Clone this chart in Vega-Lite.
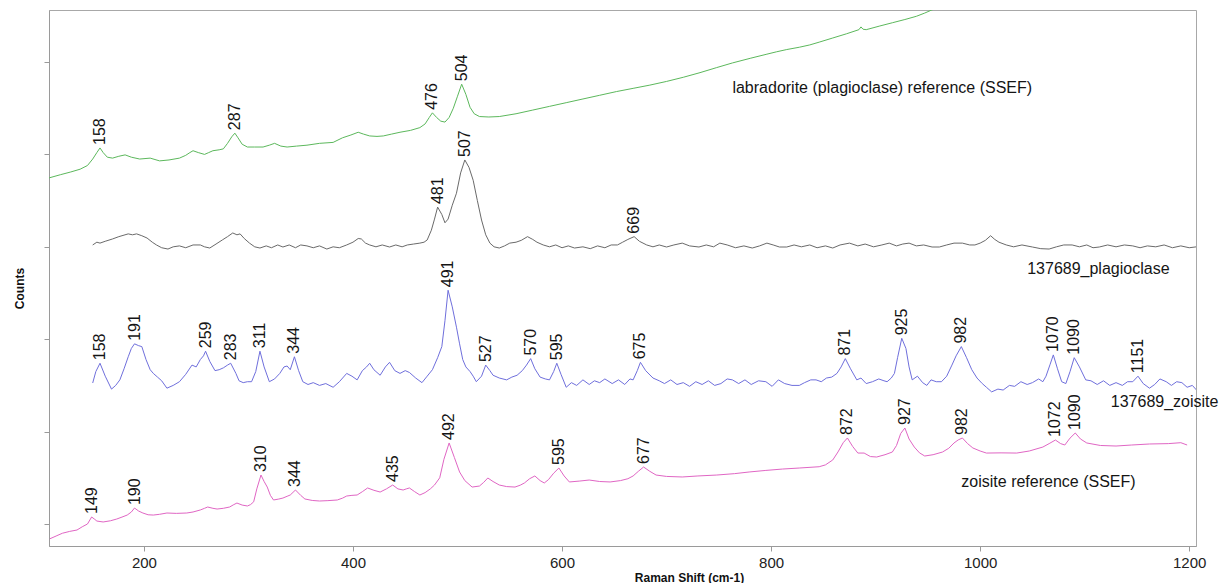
{
  "$schema": "https://vega.github.io/schema/vega-lite/v6.json",
  "width": 1147,
  "height": 536,
  "autosize": {"type": "none"},
  "padding": {"left": 49, "top": 10, "right": 25, "bottom": 37},
  "background": "white",
  "config": {"view": {"stroke": "#a8a8a8", "strokeWidth": 1}, "font": "Liberation Sans"},
  "datasets": {
    "spectra": [
      {"s":"lab","x":109,"y":374.5},{"s":"lab","x":120,"y":378},{"s":"lab","x":130,"y":381},{"s":"lab","x":139,"y":384},{"s":"lab","x":146,"y":388},{"s":"lab","x":151,"y":395},{"s":"lab","x":155,"y":402},{"s":"lab","x":158,"y":407},{"s":"lab","x":161,"y":402},{"s":"lab","x":165,"y":397},{"s":"lab","x":170,"y":396},{"s":"lab","x":176,"y":398},{"s":"lab","x":182,"y":399.5},{"s":"lab","x":188,"y":397},{"s":"lab","x":196,"y":395},{"s":"lab","x":206,"y":396},{"s":"lab","x":215,"y":393},{"s":"lab","x":224,"y":394},{"s":"lab","x":234,"y":396},{"s":"lab","x":240,"y":399},{"s":"lab","x":244,"y":402},{"s":"lab","x":247,"y":404},{"s":"lab","x":252,"y":402},{"s":"lab","x":258,"y":400},{"s":"lab","x":262,"y":402},{"s":"lab","x":266,"y":404},{"s":"lab","x":272,"y":405},{"s":"lab","x":276,"y":406},{"s":"lab","x":280,"y":412},{"s":"lab","x":284,"y":419},{"s":"lab","x":287,"y":423},{"s":"lab","x":290,"y":418},{"s":"lab","x":294,"y":411},{"s":"lab","x":299,"y":408},{"s":"lab","x":306,"y":408},{"s":"lab","x":314,"y":408},{"s":"lab","x":320,"y":410},{"s":"lab","x":325,"y":412},{"s":"lab","x":331,"y":409},{"s":"lab","x":337,"y":408},{"s":"lab","x":346,"y":409},{"s":"lab","x":356,"y":410},{"s":"lab","x":368,"y":412},{"s":"lab","x":381,"y":413},{"s":"lab","x":390,"y":418},{"s":"lab","x":398,"y":421},{"s":"lab","x":405,"y":424},{"s":"lab","x":410,"y":422},{"s":"lab","x":416,"y":420},{"s":"lab","x":423,"y":419.5},{"s":"lab","x":429,"y":420},{"s":"lab","x":437,"y":422},{"s":"lab","x":445,"y":424},{"s":"lab","x":455,"y":426},{"s":"lab","x":464,"y":429},{"s":"lab","x":469,"y":433},{"s":"lab","x":473,"y":440},{"s":"lab","x":476,"y":445},{"s":"lab","x":480,"y":440},{"s":"lab","x":484,"y":436},{"s":"lab","x":488,"y":435},{"s":"lab","x":492,"y":440},{"s":"lab","x":496,"y":450},{"s":"lab","x":500,"y":463},{"s":"lab","x":504,"y":476},{"s":"lab","x":508,"y":465},{"s":"lab","x":512,"y":451},{"s":"lab","x":516,"y":444},{"s":"lab","x":521,"y":441},{"s":"lab","x":530,"y":440.5},{"s":"lab","x":540,"y":441},{"s":"lab","x":556,"y":444},{"s":"lab","x":572,"y":448},{"s":"lab","x":588,"y":452},{"s":"lab","x":604,"y":456},{"s":"lab","x":620,"y":460},{"s":"lab","x":636,"y":464},{"s":"lab","x":652,"y":468},{"s":"lab","x":668,"y":471.5},{"s":"lab","x":684,"y":475},{"s":"lab","x":700,"y":479},{"s":"lab","x":716,"y":483.5},{"s":"lab","x":732,"y":488.5},{"s":"lab","x":748,"y":494},{"s":"lab","x":763,"y":499},{"s":"lab","x":780,"y":504},{"s":"lab","x":796,"y":508.5},{"s":"lab","x":805,"y":511},{"s":"lab","x":815,"y":513.5},{"s":"lab","x":827,"y":516},{"s":"lab","x":837,"y":518.5},{"s":"lab","x":846,"y":521.5},{"s":"lab","x":859,"y":526},{"s":"lab","x":872,"y":530.5},{"s":"lab","x":884,"y":535},{"s":"lab","x":886,"y":538},{"s":"lab","x":888,"y":535.5},{"s":"lab","x":891,"y":535},{"s":"lab","x":904,"y":539},{"s":"lab","x":916,"y":542.5},{"s":"lab","x":928,"y":546},{"s":"lab","x":939,"y":549.5},{"s":"lab","x":947,"y":553},{"s":"lab","x":954,"y":556.5},{"s":"lab","x":970,"y":562},{"s":"lab","x":990,"y":570},{"s":"lab","x":1020,"y":580},{"s":"lab","x":1060,"y":594},{"s":"lab","x":1100,"y":608},{"s":"lab","x":1150,"y":625},{"s":"lab","x":1207,"y":645},

      {"s":"plag","x":151,"y":302},{"s":"plag","x":155,"y":305},{"s":"plag","x":158,"y":304},{"s":"plag","x":163,"y":306},{"s":"plag","x":170,"y":308.5},{"s":"plag","x":176,"y":311},{"s":"plag","x":185,"y":314},{"s":"plag","x":189,"y":313},{"s":"plag","x":193,"y":314},{"s":"plag","x":198,"y":312},{"s":"plag","x":203,"y":309.5},{"s":"plag","x":208,"y":305},{"s":"plag","x":212,"y":302},{"s":"plag","x":217,"y":299},{"s":"plag","x":223,"y":297.6},{"s":"plag","x":228,"y":300},{"s":"plag","x":234,"y":301},{"s":"plag","x":240,"y":299},{"s":"plag","x":247,"y":302},{"s":"plag","x":254,"y":302},{"s":"plag","x":258,"y":300},{"s":"plag","x":263,"y":298.7},{"s":"plag","x":269,"y":303},{"s":"plag","x":275,"y":307.4},{"s":"plag","x":280,"y":311},{"s":"plag","x":285,"y":315},{"s":"plag","x":289,"y":313},{"s":"plag","x":292,"y":314},{"s":"plag","x":296,"y":309},{"s":"plag","x":301,"y":304},{"s":"plag","x":306,"y":300},{"s":"plag","x":311,"y":298.7},{"s":"plag","x":317,"y":301},{"s":"plag","x":322,"y":299},{"s":"plag","x":328,"y":302},{"s":"plag","x":333,"y":299.8},{"s":"plag","x":339,"y":302},{"s":"plag","x":345,"y":299},{"s":"plag","x":350,"y":302},{"s":"plag","x":356,"y":301},{"s":"plag","x":362,"y":299},{"s":"plag","x":368,"y":301},{"s":"plag","x":375,"y":297.6},{"s":"plag","x":381,"y":300},{"s":"plag","x":387,"y":299},{"s":"plag","x":394,"y":302},{"s":"plag","x":400,"y":305},{"s":"plag","x":405,"y":309},{"s":"plag","x":408,"y":308.5},{"s":"plag","x":412,"y":304},{"s":"plag","x":416,"y":302},{"s":"plag","x":422,"y":300},{"s":"plag","x":428,"y":302},{"s":"plag","x":435,"y":299.8},{"s":"plag","x":441,"y":302},{"s":"plag","x":447,"y":300},{"s":"plag","x":452,"y":302},{"s":"plag","x":458,"y":303},{"s":"plag","x":464,"y":304},{"s":"plag","x":468,"y":305},{"s":"plag","x":471,"y":307.4},{"s":"plag","x":475,"y":318},{"s":"plag","x":478,"y":330},{"s":"plag","x":481,"y":343},{"s":"plag","x":485,"y":335},{"s":"plag","x":488,"y":326},{"s":"plag","x":491,"y":330},{"s":"plag","x":495,"y":345},{"s":"plag","x":499,"y":358},{"s":"plag","x":503,"y":380},{"s":"plag","x":507,"y":394},{"s":"plag","x":511,"y":386},{"s":"plag","x":515,"y":372},{"s":"plag","x":519,"y":350},{"s":"plag","x":523,"y":329},{"s":"plag","x":527,"y":313},{"s":"plag","x":531,"y":304},{"s":"plag","x":535,"y":300},{"s":"plag","x":540,"y":298.7},{"s":"plag","x":545,"y":301},{"s":"plag","x":550,"y":304},{"s":"plag","x":556,"y":305},{"s":"plag","x":561,"y":307},{"s":"plag","x":567,"y":311},{"s":"plag","x":572,"y":308},{"s":"plag","x":576,"y":305},{"s":"plag","x":582,"y":302},{"s":"plag","x":588,"y":300},{"s":"plag","x":594,"y":302},{"s":"plag","x":600,"y":299},{"s":"plag","x":606,"y":301},{"s":"plag","x":612,"y":298.7},{"s":"plag","x":620,"y":300},{"s":"plag","x":627,"y":298},{"s":"plag","x":634,"y":301},{"s":"plag","x":641,"y":299},{"s":"plag","x":647,"y":302},{"s":"plag","x":653,"y":302},{"s":"plag","x":658,"y":305},{"s":"plag","x":663,"y":308},{"s":"plag","x":669,"y":311},{"s":"plag","x":674,"y":306},{"s":"plag","x":681,"y":302},{"s":"plag","x":687,"y":300},{"s":"plag","x":693,"y":302},{"s":"plag","x":700,"y":299.8},{"s":"plag","x":707,"y":302},{"s":"plag","x":715,"y":304},{"s":"plag","x":722,"y":301},{"s":"plag","x":731,"y":299.8},{"s":"plag","x":738,"y":302},{"s":"plag","x":745,"y":300},{"s":"plag","x":751,"y":304},{"s":"plag","x":758,"y":302},{"s":"plag","x":766,"y":299},{"s":"plag","x":774,"y":301},{"s":"plag","x":782,"y":298.7},{"s":"plag","x":789,"y":301},{"s":"plag","x":796,"y":304},{"s":"plag","x":802,"y":302},{"s":"plag","x":808,"y":299.8},{"s":"plag","x":815,"y":299.8},{"s":"plag","x":822,"y":302},{"s":"plag","x":829,"y":300},{"s":"plag","x":837,"y":302},{"s":"plag","x":844,"y":299},{"s":"plag","x":852,"y":301},{"s":"plag","x":859,"y":298.7},{"s":"plag","x":866,"y":302},{"s":"plag","x":875,"y":304},{"s":"plag","x":883,"y":301},{"s":"plag","x":890,"y":303},{"s":"plag","x":898,"y":300},{"s":"plag","x":906,"y":302},{"s":"plag","x":913,"y":304},{"s":"plag","x":920,"y":301},{"s":"plag","x":926,"y":303},{"s":"plag","x":932,"y":304},{"s":"plag","x":939,"y":301},{"s":"plag","x":946,"y":302},{"s":"plag","x":954,"y":299.8},{"s":"plag","x":961,"y":299.8},{"s":"plag","x":968,"y":302},{"s":"plag","x":975,"y":304},{"s":"plag","x":983,"y":304},{"s":"plag","x":990,"y":302},{"s":"plag","x":995,"y":302},{"s":"plag","x":1000,"y":304},{"s":"plag","x":1005,"y":307},{"s":"plag","x":1010,"y":312},{"s":"plag","x":1014,"y":308},{"s":"plag","x":1018,"y":305},{"s":"plag","x":1025,"y":302},{"s":"plag","x":1032,"y":300},{"s":"plag","x":1040,"y":302},{"s":"plag","x":1050,"y":299.8},{"s":"plag","x":1058,"y":298},{"s":"plag","x":1066,"y":297.6},{"s":"plag","x":1073,"y":300},{"s":"plag","x":1080,"y":302},{"s":"plag","x":1088,"y":302},{"s":"plag","x":1095,"y":300},{"s":"plag","x":1102,"y":302},{"s":"plag","x":1108,"y":299},{"s":"plag","x":1114,"y":299.8},{"s":"plag","x":1122,"y":302},{"s":"plag","x":1130,"y":300},{"s":"plag","x":1138,"y":302},{"s":"plag","x":1146,"y":301},{"s":"plag","x":1153,"y":299},{"s":"plag","x":1160,"y":301},{"s":"plag","x":1168,"y":300},{"s":"plag","x":1176,"y":302},{"s":"plag","x":1184,"y":299},{"s":"plag","x":1192,"y":301},{"s":"plag","x":1200,"y":299},{"s":"plag","x":1207,"y":300},

      {"s":"zoi","x":151,"y":152.6},{"s":"zoi","x":154,"y":165},{"s":"zoi","x":158,"y":174},{"s":"zoi","x":163,"y":160},{"s":"zoi","x":169,"y":146},{"s":"zoi","x":173,"y":150},{"s":"zoi","x":177,"y":156},{"s":"zoi","x":181,"y":168},{"s":"zoi","x":185,"y":181},{"s":"zoi","x":188,"y":190},{"s":"zoi","x":191,"y":195},{"s":"zoi","x":195,"y":193},{"s":"zoi","x":198,"y":192},{"s":"zoi","x":202,"y":178},{"s":"zoi","x":206,"y":167},{"s":"zoi","x":209,"y":163},{"s":"zoi","x":213,"y":159},{"s":"zoi","x":217,"y":155},{"s":"zoi","x":222,"y":147},{"s":"zoi","x":228,"y":150},{"s":"zoi","x":234,"y":154},{"s":"zoi","x":240,"y":162},{"s":"zoi","x":246,"y":172},{"s":"zoi","x":250,"y":170},{"s":"zoi","x":254,"y":178},{"s":"zoi","x":257,"y":182},{"s":"zoi","x":259,"y":187},{"s":"zoi","x":263,"y":176},{"s":"zoi","x":268,"y":166},{"s":"zoi","x":272,"y":167},{"s":"zoi","x":276,"y":169},{"s":"zoi","x":280,"y":172},{"s":"zoi","x":283,"y":174},{"s":"zoi","x":288,"y":163},{"s":"zoi","x":291,"y":155},{"s":"zoi","x":295,"y":153},{"s":"zoi","x":299,"y":154},{"s":"zoi","x":303,"y":154},{"s":"zoi","x":307,"y":165},{"s":"zoi","x":311,"y":187},{"s":"zoi","x":315,"y":170},{"s":"zoi","x":320,"y":154},{"s":"zoi","x":325,"y":157},{"s":"zoi","x":330,"y":163},{"s":"zoi","x":334,"y":170},{"s":"zoi","x":337,"y":171},{"s":"zoi","x":340,"y":167},{"s":"zoi","x":344,"y":181},{"s":"zoi","x":348,"y":166},{"s":"zoi","x":352,"y":154},{"s":"zoi","x":357,"y":151},{"s":"zoi","x":362,"y":153},{"s":"zoi","x":368,"y":150},{"s":"zoi","x":374,"y":152},{"s":"zoi","x":381,"y":148},{"s":"zoi","x":387,"y":154},{"s":"zoi","x":394,"y":163},{"s":"zoi","x":399,"y":160},{"s":"zoi","x":404,"y":156},{"s":"zoi","x":409,"y":166},{"s":"zoi","x":413,"y":170},{"s":"zoi","x":416,"y":174},{"s":"zoi","x":420,"y":167},{"s":"zoi","x":426,"y":161},{"s":"zoi","x":431,"y":170},{"s":"zoi","x":435,"y":175},{"s":"zoi","x":440,"y":166},{"s":"zoi","x":445,"y":163},{"s":"zoi","x":450,"y":166},{"s":"zoi","x":454,"y":164},{"s":"zoi","x":460,"y":158},{"s":"zoi","x":466,"y":153},{"s":"zoi","x":471,"y":160},{"s":"zoi","x":476,"y":167},{"s":"zoi","x":481,"y":180},{"s":"zoi","x":485,"y":192},{"s":"zoi","x":488,"y":220},{"s":"zoi","x":491,"y":253},{"s":"zoi","x":495,"y":235},{"s":"zoi","x":499,"y":213},{"s":"zoi","x":502,"y":195},{"s":"zoi","x":505,"y":178},{"s":"zoi","x":508,"y":170},{"s":"zoi","x":512,"y":165},{"s":"zoi","x":515,"y":160},{"s":"zoi","x":518,"y":154},{"s":"zoi","x":523,"y":160},{"s":"zoi","x":527,"y":172},{"s":"zoi","x":531,"y":166},{"s":"zoi","x":534,"y":161},{"s":"zoi","x":540,"y":158},{"s":"zoi","x":547,"y":156},{"s":"zoi","x":552,"y":159},{"s":"zoi","x":557,"y":161},{"s":"zoi","x":562,"y":166},{"s":"zoi","x":566,"y":172},{"s":"zoi","x":570,"y":179},{"s":"zoi","x":574,"y":168},{"s":"zoi","x":579,"y":159},{"s":"zoi","x":584,"y":157},{"s":"zoi","x":588,"y":156},{"s":"zoi","x":592,"y":165},{"s":"zoi","x":595,"y":174},{"s":"zoi","x":599,"y":162},{"s":"zoi","x":604,"y":148},{"s":"zoi","x":609,"y":153},{"s":"zoi","x":614,"y":150},{"s":"zoi","x":620,"y":156},{"s":"zoi","x":626,"y":151},{"s":"zoi","x":631,"y":155},{"s":"zoi","x":636,"y":153},{"s":"zoi","x":641,"y":157},{"s":"zoi","x":648,"y":152},{"s":"zoi","x":654,"y":156},{"s":"zoi","x":660,"y":151},{"s":"zoi","x":665,"y":157},{"s":"zoi","x":668,"y":156},{"s":"zoi","x":672,"y":166},{"s":"zoi","x":675,"y":175},{"s":"zoi","x":680,"y":166},{"s":"zoi","x":687,"y":158},{"s":"zoi","x":693,"y":155},{"s":"zoi","x":698,"y":152},{"s":"zoi","x":704,"y":156},{"s":"zoi","x":710,"y":151},{"s":"zoi","x":716,"y":153},{"s":"zoi","x":722,"y":149},{"s":"zoi","x":728,"y":154},{"s":"zoi","x":734,"y":151},{"s":"zoi","x":740,"y":155},{"s":"zoi","x":746,"y":150},{"s":"zoi","x":752,"y":152},{"s":"zoi","x":758,"y":157},{"s":"zoi","x":763,"y":156},{"s":"zoi","x":769,"y":152},{"s":"zoi","x":775,"y":156},{"s":"zoi","x":781,"y":151},{"s":"zoi","x":788,"y":155},{"s":"zoi","x":795,"y":154},{"s":"zoi","x":801,"y":149},{"s":"zoi","x":807,"y":156},{"s":"zoi","x":813,"y":152},{"s":"zoi","x":820,"y":150},{"s":"zoi","x":827,"y":150},{"s":"zoi","x":832,"y":153},{"s":"zoi","x":838,"y":156},{"s":"zoi","x":843,"y":156},{"s":"zoi","x":848,"y":154},{"s":"zoi","x":853,"y":158},{"s":"zoi","x":858,"y":159},{"s":"zoi","x":863,"y":163},{"s":"zoi","x":867,"y":170},{"s":"zoi","x":871,"y":179},{"s":"zoi","x":876,"y":168},{"s":"zoi","x":882,"y":156},{"s":"zoi","x":886,"y":158},{"s":"zoi","x":891,"y":152},{"s":"zoi","x":897,"y":154},{"s":"zoi","x":903,"y":157},{"s":"zoi","x":908,"y":155},{"s":"zoi","x":911,"y":154},{"s":"zoi","x":915,"y":158},{"s":"zoi","x":918,"y":163},{"s":"zoi","x":921,"y":180},{"s":"zoi","x":925,"y":201},{"s":"zoi","x":929,"y":190},{"s":"zoi","x":932,"y":170},{"s":"zoi","x":935,"y":156},{"s":"zoi","x":940,"y":160},{"s":"zoi","x":945,"y":153},{"s":"zoi","x":949,"y":150},{"s":"zoi","x":953,"y":156},{"s":"zoi","x":958,"y":154},{"s":"zoi","x":963,"y":154},{"s":"zoi","x":968,"y":160},{"s":"zoi","x":973,"y":172},{"s":"zoi","x":977,"y":182},{"s":"zoi","x":982,"y":192},{"s":"zoi","x":987,"y":180},{"s":"zoi","x":992,"y":167},{"s":"zoi","x":997,"y":158},{"s":"zoi","x":1002,"y":152},{"s":"zoi","x":1006,"y":148},{"s":"zoi","x":1011,"y":143},{"s":"zoi","x":1017,"y":146},{"s":"zoi","x":1022,"y":145},{"s":"zoi","x":1028,"y":150},{"s":"zoi","x":1033,"y":149},{"s":"zoi","x":1039,"y":154},{"s":"zoi","x":1045,"y":151},{"s":"zoi","x":1050,"y":153},{"s":"zoi","x":1056,"y":157},{"s":"zoi","x":1060,"y":154},{"s":"zoi","x":1063,"y":160},{"s":"zoi","x":1067,"y":173},{"s":"zoi","x":1070,"y":183},{"s":"zoi","x":1074,"y":168},{"s":"zoi","x":1078,"y":154},{"s":"zoi","x":1082,"y":152},{"s":"zoi","x":1086,"y":165},{"s":"zoi","x":1090,"y":180},{"s":"zoi","x":1095,"y":170},{"s":"zoi","x":1101,"y":156},{"s":"zoi","x":1106,"y":155},{"s":"zoi","x":1112,"y":151},{"s":"zoi","x":1118,"y":155},{"s":"zoi","x":1124,"y":150},{"s":"zoi","x":1130,"y":153},{"s":"zoi","x":1136,"y":150},{"s":"zoi","x":1141,"y":154},{"s":"zoi","x":1146,"y":154},{"s":"zoi","x":1151,"y":160},{"s":"zoi","x":1156,"y":152},{"s":"zoi","x":1162,"y":147},{"s":"zoi","x":1167,"y":151},{"s":"zoi","x":1172,"y":157},{"s":"zoi","x":1178,"y":154},{"s":"zoi","x":1183,"y":150},{"s":"zoi","x":1188,"y":154},{"s":"zoi","x":1193,"y":153},{"s":"zoi","x":1198,"y":148},{"s":"zoi","x":1203,"y":150},{"s":"zoi","x":1207,"y":145},

      {"s":"ref","x":110,"y":-16},{"s":"ref","x":116,"y":-13},{"s":"ref","x":122,"y":-10},{"s":"ref","x":129,"y":-8},{"s":"ref","x":136,"y":-6.5},{"s":"ref","x":141,"y":-3},{"s":"ref","x":146,"y":0},{"s":"ref","x":150,"y":7.6},{"s":"ref","x":153,"y":5},{"s":"ref","x":155,"y":3.2},{"s":"ref","x":161,"y":2.2},{"s":"ref","x":168,"y":3.5},{"s":"ref","x":174,"y":5.4},{"s":"ref","x":179,"y":7.5},{"s":"ref","x":184,"y":9.7},{"s":"ref","x":188,"y":13},{"s":"ref","x":191,"y":17.3},{"s":"ref","x":195,"y":14},{"s":"ref","x":199,"y":11.9},{"s":"ref","x":204,"y":10},{"s":"ref","x":209,"y":9.7},{"s":"ref","x":215,"y":10.5},{"s":"ref","x":222,"y":11.9},{"s":"ref","x":231,"y":11.5},{"s":"ref","x":241,"y":11.9},{"s":"ref","x":247,"y":13},{"s":"ref","x":254,"y":15.2},{"s":"ref","x":258,"y":17},{"s":"ref","x":261,"y":18.4},{"s":"ref","x":266,"y":17},{"s":"ref","x":270,"y":16.2},{"s":"ref","x":276,"y":17},{"s":"ref","x":282,"y":18.4},{"s":"ref","x":286,"y":21},{"s":"ref","x":289,"y":22.7},{"s":"ref","x":294,"y":20.5},{"s":"ref","x":299,"y":19.5},{"s":"ref","x":302,"y":21},{"s":"ref","x":305,"y":24},{"s":"ref","x":308,"y":38},{"s":"ref","x":312,"y":53},{"s":"ref","x":315,"y":46},{"s":"ref","x":318,"y":40},{"s":"ref","x":321,"y":31},{"s":"ref","x":324,"y":26},{"s":"ref","x":329,"y":27},{"s":"ref","x":333,"y":28.1},{"s":"ref","x":337,"y":30},{"s":"ref","x":340,"y":31.4},{"s":"ref","x":345,"y":36.8},{"s":"ref","x":350,"y":31},{"s":"ref","x":354,"y":27.1},{"s":"ref","x":361,"y":25.5},{"s":"ref","x":368,"y":24.9},{"s":"ref","x":376,"y":25.3},{"s":"ref","x":385,"y":26},{"s":"ref","x":390,"y":28},{"s":"ref","x":394,"y":30.3},{"s":"ref","x":399,"y":31},{"s":"ref","x":404,"y":31.4},{"s":"ref","x":409,"y":35},{"s":"ref","x":414,"y":39},{"s":"ref","x":420,"y":36.5},{"s":"ref","x":426,"y":34.6},{"s":"ref","x":432,"y":38},{"s":"ref","x":438,"y":42.2},{"s":"ref","x":443,"y":38},{"s":"ref","x":448,"y":36.8},{"s":"ref","x":451,"y":38},{"s":"ref","x":454,"y":39},{"s":"ref","x":459,"y":35},{"s":"ref","x":464,"y":31.4},{"s":"ref","x":469,"y":34},{"s":"ref","x":474,"y":38},{"s":"ref","x":478,"y":42.2},{"s":"ref","x":483,"y":50},{"s":"ref","x":487,"y":70},{"s":"ref","x":492,"y":87.7},{"s":"ref","x":497,"y":72},{"s":"ref","x":502,"y":56.3},{"s":"ref","x":507,"y":47},{"s":"ref","x":514,"y":40},{"s":"ref","x":521,"y":41.1},{"s":"ref","x":525,"y":45},{"s":"ref","x":529,"y":49.8},{"s":"ref","x":534,"y":46},{"s":"ref","x":540,"y":42.2},{"s":"ref","x":547,"y":40.5},{"s":"ref","x":555,"y":40},{"s":"ref","x":560,"y":42},{"s":"ref","x":564,"y":44.4},{"s":"ref","x":569,"y":49},{"s":"ref","x":574,"y":52},{"s":"ref","x":579,"y":47},{"s":"ref","x":583,"y":44.4},{"s":"ref","x":587,"y":48},{"s":"ref","x":592,"y":55},{"s":"ref","x":597,"y":60.6},{"s":"ref","x":602,"y":52},{"s":"ref","x":607,"y":45.5},{"s":"ref","x":617,"y":46.5},{"s":"ref","x":626,"y":47.6},{"s":"ref","x":636,"y":46},{"s":"ref","x":646,"y":45.5},{"s":"ref","x":656,"y":47},{"s":"ref","x":663,"y":49},{"s":"ref","x":668,"y":52},{"s":"ref","x":673,"y":57},{"s":"ref","x":678,"y":61.7},{"s":"ref","x":684,"y":57},{"s":"ref","x":690,"y":53},{"s":"ref","x":700,"y":51.5},{"s":"ref","x":715,"y":50.9},{"s":"ref","x":730,"y":52},{"s":"ref","x":748,"y":53},{"s":"ref","x":765,"y":54.5},{"s":"ref","x":779,"y":56.3},{"s":"ref","x":795,"y":58},{"s":"ref","x":811,"y":59.5},{"s":"ref","x":827,"y":60.6},{"s":"ref","x":846,"y":62},{"s":"ref","x":852,"y":64},{"s":"ref","x":859,"y":69.3},{"s":"ref","x":864,"y":78},{"s":"ref","x":869,"y":88},{"s":"ref","x":873,"y":93.1},{"s":"ref","x":878,"y":84},{"s":"ref","x":883,"y":76.8},{"s":"ref","x":889,"y":76.8},{"s":"ref","x":895,"y":73},{"s":"ref","x":901,"y":72.5},{"s":"ref","x":909,"y":75},{"s":"ref","x":916,"y":77.9},{"s":"ref","x":920,"y":85},{"s":"ref","x":924,"y":98},{"s":"ref","x":928,"y":103.9},{"s":"ref","x":932,"y":92},{"s":"ref","x":937,"y":83.3},{"s":"ref","x":942,"y":77},{"s":"ref","x":947,"y":73.6},{"s":"ref","x":955,"y":75},{"s":"ref","x":964,"y":77.9},{"s":"ref","x":970,"y":82},{"s":"ref","x":975,"y":87.7},{"s":"ref","x":979,"y":91},{"s":"ref","x":983,"y":93.1},{"s":"ref","x":988,"y":87},{"s":"ref","x":993,"y":82.3},{"s":"ref","x":1000,"y":79},{"s":"ref","x":1006,"y":76.8},{"s":"ref","x":1020,"y":77},{"s":"ref","x":1035,"y":76.8},{"s":"ref","x":1047,"y":79},{"s":"ref","x":1060,"y":83.3},{"s":"ref","x":1066,"y":87},{"s":"ref","x":1072,"y":90.9},{"s":"ref","x":1077,"y":87},{"s":"ref","x":1081,"y":85.5},{"s":"ref","x":1086,"y":93},{"s":"ref","x":1091,"y":98.5},{"s":"ref","x":1096,"y":92},{"s":"ref","x":1102,"y":87.7},{"s":"ref","x":1115,"y":85},{"s":"ref","x":1130,"y":84.4},{"s":"ref","x":1145,"y":85.5},{"s":"ref","x":1162,"y":86.6},{"s":"ref","x":1180,"y":87},{"s":"ref","x":1192,"y":88},{"s":"ref","x":1198,"y":85.5}
    ],
    "peaks": [
      {"x":158,"y":407,"label":"158"},{"x":287,"y":423,"label":"287"},{"x":476,"y":445,"label":"476"},{"x":504,"y":476,"label":"504"},
      {"x":481,"y":343,"label":"481"},{"x":507,"y":394,"label":"507"},{"x":669,"y":311,"label":"669"},
      {"x":158,"y":174,"label":"158"},{"x":191,"y":195,"label":"191"},{"x":259,"y":187,"label":"259"},{"x":283,"y":174,"label":"283"},{"x":311,"y":187,"label":"311"},{"x":344,"y":181,"label":"344"},{"x":491,"y":253,"label":"491"},{"x":527,"y":172,"label":"527"},{"x":570,"y":179,"label":"570"},{"x":595,"y":174,"label":"595"},{"x":675,"y":175,"label":"675"},{"x":871,"y":179,"label":"871"},{"x":925,"y":201,"label":"925"},{"x":982,"y":192,"label":"982"},{"x":1070,"y":183,"label":"1070"},{"x":1090,"y":180,"label":"1090"},{"x":1151,"y":160,"label":"1151"},
      {"x":150,"y":7.6,"label":"149"},{"x":191,"y":17.3,"label":"190"},{"x":312,"y":53,"label":"310"},{"x":345,"y":36.8,"label":"344"},{"x":438,"y":42.2,"label":"435"},{"x":492,"y":87.7,"label":"492"},{"x":597,"y":60.6,"label":"595"},{"x":678,"y":61.7,"label":"677"},{"x":873,"y":93.1,"label":"872"},{"x":928,"y":103.9,"label":"927"},{"x":983,"y":93.1,"label":"982"},{"x":1072,"y":90.9,"label":"1072"},{"x":1091,"y":98.5,"label":"1090"}
    ],
    "names": [
      {"x":763,"y":472,"label":"labradorite (plagioclase) reference (SSEF)"},
      {"x":1045,"y":276,"label":"137689_plagioclase"},
      {"x":1125,"y":132,"label":"137689_zoisite"},
      {"x":982,"y":45.5,"label":"zoisite reference (SSEF)"}
    ]
  },
  "encoding": {
    "x": {
      "field": "x", "type": "quantitative",
      "scale": {"domain": [109.2, 1206.5], "nice": false, "zero": false},
      "axis": {
        "values": [200, 400, 600, 800, 1000, 1200],
        "format": "d",
        "grid": false,
        "title": "Raman Shift (cm-1)",
        "titleFont": "Liberation Sans", "titleFontSize": 12, "titleFontWeight": "bold", "titleColor": "#111",
        "titleX": 640, "titleY": 31, "titleAlign": "center", "titleBaseline": "middle",
        "labelFont": "Liberation Sans", "labelFontSize": 15, "labelColor": "#222", "labelPadding": 4,
        "domainColor": "#9a9a9a", "tickColor": "#9a9a9a", "tickSize": 5
      }
    },
    "y": {
      "field": "y", "type": "quantitative",
      "scale": {"domain": [-23.8, 556.3], "nice": false, "zero": false},
      "axis": {
        "values": [0, 100, 200, 300, 400, 500],
        "labels": false,
        "grid": false,
        "title": "Counts",
        "titleFont": "Liberation Sans", "titleFontSize": 12, "titleFontWeight": "bold", "titleColor": "#111",
        "titleX": -30, "titleY": 278, "titleAlign": "center", "titleBaseline": "middle", "titleAngle": 270,
        "domainColor": "#9a9a9a", "tickColor": "#9a9a9a", "tickSize": 5
      }
    }
  },
  "layer": [
    {
      "data": {"name": "spectra"},
      "mark": {"type": "line", "strokeWidth": 1, "clip": true, "interpolate": "linear"},
      "encoding": {
        "color": {
          "field": "s", "type": "nominal", "legend": null,
          "scale": {"domain": ["lab", "plag", "zoi", "ref"], "range": ["#5cb85c", "#6a6a6a", "#6f6fdc", "#e066c4"]}
        }
      }
    },
    {
      "data": {"name": "peaks"},
      "mark": {"type": "text", "angle": 270, "align": "left", "baseline": "middle", "dx": 3, "fontSize": 16, "font": "Liberation Sans", "color": "#151515"},
      "encoding": {"text": {"field": "label", "type": "nominal"}}
    },
    {
      "data": {"name": "names"},
      "mark": {"type": "text", "align": "left", "baseline": "middle", "fontSize": 16, "font": "Liberation Sans", "color": "#151515"},
      "encoding": {"text": {"field": "label", "type": "nominal"}}
    }
  ]
}
